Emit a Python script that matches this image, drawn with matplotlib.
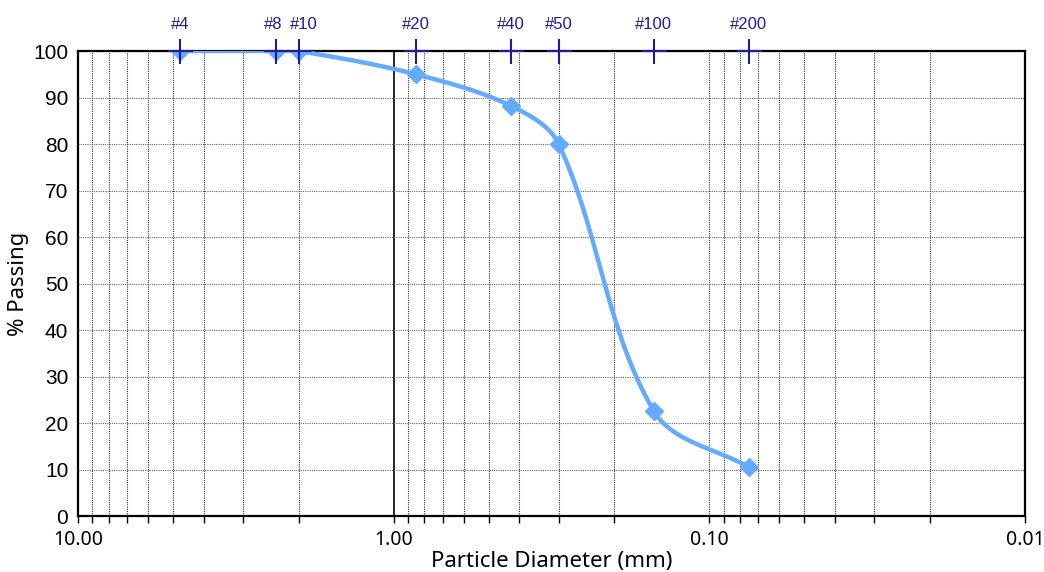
import matplotlib
matplotlib.use("Agg")
import matplotlib.pyplot as plt
import numpy as np
from matplotlib.ticker import FixedLocator, LogLocator, FuncFormatter, NullFormatter

# sieve analysis results
sieves = ["#4", "#8", "#10", "#20", "#40", "#50", "#100", "#200"]
diameters = [4.75, 2.36, 2.00, 0.85, 0.425, 0.30, 0.15, 0.075]   # mm
passing = [100, 100, 100, 95.0, 88.2, 80.0, 22.6, 10.5]         # %

curve_color = "#64aaff"
sieve_color = "#1c1c9c"

fig = plt.figure(figsize=(10.44, 5.72), dpi=100)
ax = fig.add_axes([0.0747, 0.0979, 0.9071, 0.8129])

ax.set_xscale("log")
ax.set_xlim(10, 0.01)
ax.set_ylim(0, 100)

W, H = 947, 465  # plot area in pixels, used to smooth in screen proportions


def smooth(xs, ys, n=40):
    # cubic Bezier through the points, tangents scaled by segment length
    u = (1 - np.log10(np.asarray(xs))) / 3 * W
    v = np.asarray(ys) / 100 * H
    P = np.column_stack([u, v])
    m = len(P)
    tang = np.zeros_like(P)
    for i in range(m):
        a = P[max(i - 1, 0)]
        b = P[min(i + 1, m - 1)]
        d = b - a
        tang[i] = d / np.linalg.norm(d)
    out = []
    t = np.linspace(0, 1, n)[:, None]
    for i in range(m - 1):
        p1, p2 = P[i], P[i + 1]
        L = np.linalg.norm(p2 - p1) / 3
        c1 = p1 + tang[i] * L
        c2 = p2 - tang[i + 1] * L
        out.append((1 - t) ** 3 * p1 + 3 * (1 - t) ** 2 * t * c1
                   + 3 * (1 - t) * t ** 2 * c2 + t ** 3 * p2)
    seg = np.vstack(out)
    return 10 ** (1 - seg[:, 0] / W * 3), seg[:, 1] / H * 100


sx, sy = smooth(diameters, passing)
ax.plot(sx, sy, color=curve_color, lw=3.2, solid_capstyle="round", zorder=3)
ax.plot(diameters, passing, linestyle="none", marker="D", ms=9, color=curve_color, zorder=4)

# sieve positions along the top edge
ax.plot(diameters, [100] * len(diameters), linestyle="none", marker="+", ms=18, mew=1.5,
        color=sieve_color, clip_on=False, zorder=5)
nudge = {"#8": -2, "#10": 4}  # keep the two close labels apart
for d, name in zip(diameters, sieves):
    ax.annotate(name, (d, 100), xytext=(nudge.get(name, 0), 14), textcoords="offset points",
                ha="center", va="bottom", color=sieve_color, fontsize=12,
                family="Liberation Sans", annotation_clip=False)

# grid
ax.xaxis.set_major_locator(FixedLocator([10, 1, 0.1, 0.01]))
ax.xaxis.set_minor_locator(LogLocator(base=10, subs=np.arange(2, 10)))
ax.xaxis.set_major_formatter(FuncFormatter(lambda v, p: f"{v:.2f}"))
ax.xaxis.set_minor_formatter(NullFormatter())
ax.set_yticks(np.arange(0, 101, 10))
ax.grid(True, which="minor", axis="x", color="#333333", lw=0.8, linestyle=(0, (1, 1)))
ax.grid(True, which="major", axis="y", color="#666666", lw=0.8, linestyle=(0, (1, 1)))
ax.axvline(0.1, color="#333333", lw=0.8, linestyle=(0, (1, 1)), zorder=0.5)
ax.axvline(1.0, color="black", lw=1.2, zorder=0.5)

ax.tick_params(axis="x", which="both", direction="out", length=5, width=1, pad=5,
               labelsize=14)
ax.tick_params(axis="y", length=0, pad=7, labelsize=15)
for lab in ax.get_xticklabels():
    lab.set_family("Noto Sans")
for lab in ax.get_yticklabels():
    lab.set_family("Liberation Sans")

for s in ax.spines.values():
    s.set_color("black")
    s.set_linewidth(1.6)

ax.set_xlabel("Particle Diameter (mm)", fontsize=16, family="Noto Sans", labelpad=1)
ax.set_ylabel("% Passing", fontsize=16, family="Noto Sans", labelpad=3)

fig.savefig("out.png", dpi=100)
